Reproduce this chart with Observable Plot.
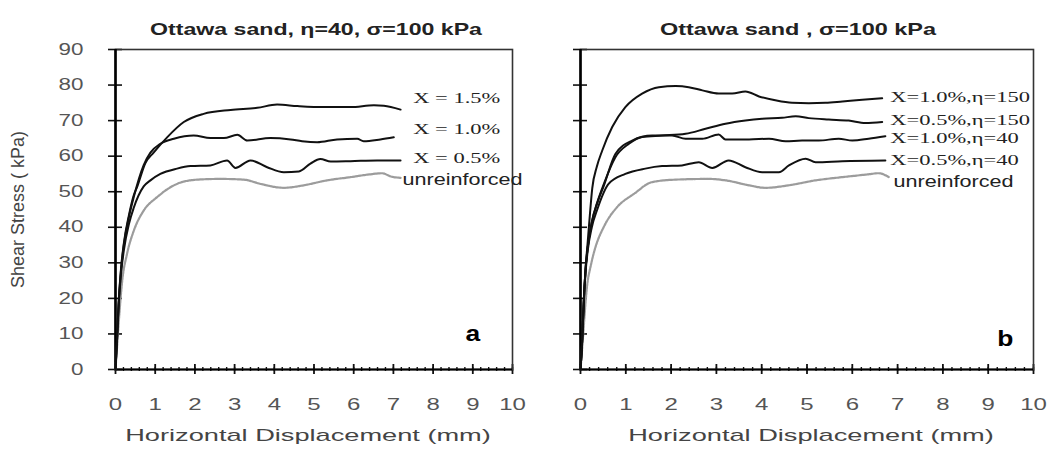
<!DOCTYPE html>
<html>
<head>
<meta charset="utf-8">
<script src="https://cdn.jsdelivr.net/npm/d3@7"></script>
<script src="https://cdn.jsdelivr.net/npm/@observablehq/plot@0.6"></script>
<style>
  body { margin: 0; background: #fff; }
  #wrap { position: relative; width: 1054px; height: 452px; overflow: hidden; }
  #left, #right { position: absolute; top: 0; }
  #left { left: 0; }
  #right { left: 540px; }
</style>
</head>
<body>
<div id="wrap"><div id="left"></div><div id="right"></div></div>
<script>
// ---------- axis ticks ----------
const xTicks = [0, 1, 2, 3, 4, 5, 6, 7, 8, 9, 10];
const yTicks = [0, 10, 20, 30, 40, 50, 60, 70, 80, 90];
const xMinorTicks = d3.range(0, 10.001, 0.2);

// ---------- texts ----------
const leftTitle = "Ottawa sand, η=40, σ=100 kPa";
const rightTitle = "Ottawa sand , σ=100 kPa";
const yLabel = "Shear Stress ( kPa)";
const xLabel = "Horizontal Displacement (mm)";

// ---------- panel a (η = 40) ----------
const left15X = [0,0.04,0.08,0.14,0.21,0.34,0.46,0.55,0.75,0.96,1.30,1.72,2.22,2.90,3.57,4.07,4.58,5.25,5.92,6.51,6.76,7.18];
const left15Y = [0,9,19,28.5,35.5,43.5,49,51.5,58,61,65.3,69.6,71.9,73.0,73.6,74.5,74.1,73.8,73.8,74.3,74.2,73.1];
const left10X = [0,0.04,0.08,0.14,0.21,0.34,0.46,0.71,0.88,1.13,1.47,1.97,2.39,2.73,3.07,3.32,3.9,4.41,4.7,5.08,5.58,6.09,6.25,6.67,7.01];
const left10Y = [0,9,18.6,28,35,43,48.5,57.5,61,63.5,64.9,65.8,65.1,65.1,66.0,64.4,65.1,64.7,64.2,63.9,64.7,64.9,64.2,64.7,65.3];
const left05X = [0,0.04,0.08,0.14,0.21,0.34,0.46,0.71,0.88,1.13,1.55,1.89,2.39,2.81,3.02,3.4,3.82,4.24,4.62,4.91,5.16,5.42,5.92,6.59,7.18];
const left05Y = [0,8.5,18,27,33.5,41,45.5,51.5,53.2,55,56.5,57.2,57.4,58.8,56.7,58.8,56.9,55.5,55.7,57.9,59.2,58.5,58.6,58.8,58.8];
const leftURX = [0,0.05,0.1,0.17,0.29,0.46,0.71,1.05,1.55,2.06,2.64,3.23,3.65,4.24,4.74,5.33,5.92,6.42,6.72,6.93,7.18];
const leftURY = [0,8,16,25,32.5,39,44.7,48.5,52.2,53.4,53.6,53.4,52.2,51.1,51.8,53.2,54.1,54.9,55.2,54.3,53.9];

const leftLabelText = ["X = 1.5%", "X = 1.0%", "X = 0.5%"];
const leftLabelX = [7.5, 7.5, 7.5];
const leftLabelY = [76.2, 67.5, 59.4];
const leftURLabel = {text: "unreinforced", x: 7.23, y: 53.2};
const leftLetter = {text: "a", x: 9.0, y: 10.1};

// ---------- panel b ----------
const r10e150X = [0,0.04,0.07,0.11,0.16,0.21,0.26,0.36,0.48,0.70,0.99,1.36,1.73,2.1,2.39,2.69,3.05,3.35,3.64,3.94,4.3,4.67,5.04,5.41,5.78,6.22,6.66];
const r10e150Y = [0,9.1,18.5,28,36,44,51,57,61.6,68.2,73.8,77.6,79.4,79.7,79.4,78.5,77.6,77.6,78.2,76.8,75.7,75.0,74.9,75.0,75.4,75.9,76.3];
const r05e150X = [0,0.04,0.07,0.11,0.16,0.25,0.37,0.51,0.77,1.07,1.36,1.80,2.32,2.76,3.2,3.64,4.01,4.45,4.75,5.04,5.48,5.92,6.29,6.66];
const r05e150Y = [0,9,18.5,27.8,34.4,41.5,47,52,59.7,63.5,65.4,65.8,66.3,67.7,69.1,70.0,70.5,70.8,71.2,70.7,70.3,70.0,69.3,69.6];
const r10e40X = [0,0.04,0.07,0.11,0.16,0.25,0.37,0.51,0.77,1.14,1.58,2.02,2.32,2.69,3.05,3.2,3.72,4.16,4.53,4.89,5.26,5.7,6.0,6.36,6.73];
const r10e40Y = [0,9,18.5,27.8,34.4,41.5,46.8,51.5,60.6,64.4,65.8,65.8,64.9,64.9,66.1,64.7,64.7,64.9,64.2,64.4,64.4,64.9,64.4,64.9,65.6];
const r05e40X = [0,0.04,0.07,0.11,0.16,0.25,0.37,0.62,0.99,1.43,1.80,2.24,2.61,2.91,3.27,3.64,4.01,4.38,4.6,4.97,5.19,5.78,6.73];
const r05e40Y = [0,8.5,18,27,33.5,40,45,52.2,55,56.5,57.2,57.4,58.3,56.7,58.8,56.9,55.5,55.5,57.4,59.3,58.3,58.6,58.8];
const rURX = [0,0.05,0.1,0.15,0.22,0.33,0.51,0.81,1.18,1.58,2.1,2.83,3.2,3.72,4.08,4.6,5.19,5.78,6.36,6.58,6.81];
const rURY = [0,8,17,24,28.8,34.4,40,45.7,49.4,52.7,53.4,53.6,53.2,51.8,51.1,51.8,53.2,54.1,54.9,55.2,54.1];

const rightLabelText = ["X=1.0%,η=150", "X=0.5%,η=150", "X=1.0%,η=40", "X=0.5%,η=40"];
const rightLabelX = [6.84, 6.84, 6.84, 6.84];
const rightLabelY = [76.5, 70.0, 65.0, 58.8];
const rightURLabel = {text: "unreinforced", x: 6.91, y: 52.9};
const rightLetter = {text: "b", x: 9.38, y: 8.7};

// ---------- helpers ----------
function rows(xs, ys, name) { return xs.map((x, i) => ({x, y: ys[i], name})); }
function labelRows(texts, xs, ys) { return texts.map((t, i) => ({text: t, x: xs[i], y: ys[i]})); }

function addScale(t, s) {
  t.setAttribute("transform", (t.getAttribute("transform") || "") + ` scale(${s},1)`);
}
function stretchGroup(svg, label, s) {
  svg.querySelectorAll(`g[aria-label="${label}"] text`).forEach(t => addScale(t, s));
}
function stretchByText(svg, factorOf) {
  svg.querySelectorAll(`g[aria-label="text"] text`).forEach(t => {
    const s = factorOf(t.textContent);
    if (s) addScale(t, s);
  });
}

function panel(opts) {
  const marks = [
    Plot.ruleY(yTicks, {y: d => d, x1: () => 0, x2: () => 0, insetLeft: -7, insetRight: -7, stroke: "#111", strokeWidth: 1.6}),
    Plot.ruleX(xMinorTicks, {x: d => d, y1: () => 0, y2: () => 0, insetTop: -2, insetBottom: -2, stroke: "#111", strokeWidth: 1.4}),
    Plot.ruleX(xTicks, {x: d => d, y1: () => 0, y2: () => 0, insetTop: -5, insetBottom: -5, stroke: "#111", strokeWidth: 1.8}),
    Plot.frame({stroke: "#333", strokeWidth: 1.6}),
    Plot.ruleX([0], {stroke: "#000", strokeWidth: 2.6}),
    Plot.ruleY([0], {stroke: "#000", strokeWidth: 2.2}),
    Plot.line(opts.gray, {x: "x", y: "y", stroke: "#9c9c9c", strokeWidth: 2.2, strokeDasharray: "2,1", curve: "monotone-x"}),
    Plot.line(opts.black, {x: "x", y: "y", z: "name", stroke: "#111", strokeWidth: 2, curve: "monotone-x"}),
    Plot.axisX({ticks: xTicks, tickSize: 0, tickPadding: 29, fontSize: 16, color: "#555", label: null}),
    Plot.text(opts.labels, {x: "x", y: "y", text: "text", textAnchor: "start", fontFamily: "'Liberation Serif', 'Times New Roman', serif", fontSize: 15, fill: "#222"}),
    Plot.text([opts.ur], {x: "x", y: "y", text: "text", textAnchor: "start", fontSize: 16, fill: "#222"}),
    Plot.text([opts.letter], {x: "x", y: "y", text: "text", fontSize: 22, fontWeight: "bold", fill: "#000"}),
    Plot.text([opts.title], {text: d => d, frameAnchor: "top", dy: -27, dx: opts.titleDx, fontSize: 17, fontWeight: "bold", fill: "#222"}),
    Plot.text([xLabel], {text: d => d, frameAnchor: "bottom", dy: 71, dx: opts.xLabelDx, fontSize: 17, fill: "#444"})
  ];
  if (opts.yAxis) {
    marks.push(Plot.axisY({ticks: yTicks, tickSize: 0, tickPadding: 32, fontSize: 16, color: "#555", label: null}));
    marks.push(Plot.text([yLabel], {text: d => d, frameAnchor: "left", textAnchor: "middle", dx: -97, rotate: -90, fontSize: 18, fill: "#444"}));
  }
  const svg = Plot.plot({
    width: opts.width,
    height: 452,
    marginLeft: opts.marginLeft,
    marginRight: opts.marginRight,
    marginTop: 49,
    marginBottom: 83,
    x: {domain: [0, 10]},
    y: {domain: [0, 90], axis: opts.yAxis ? undefined : null},
    style: {fontFamily: "'Liberation Sans', Arial, sans-serif", background: "#fff", overflow: "visible"},
    marks
  });
  stretchGroup(svg, "x-axis tick label", 1.5);
  stretchGroup(svg, "y-axis tick label", 1.4);
  const serif = new Set([...leftLabelText, ...rightLabelText]);
  stretchByText(svg, s => {
    if (serif.has(s)) return 1.5;
    if (s === "unreinforced") return 1.35;
    if (s === "a" || s === "b") return 1.2;
    if (s === leftTitle) return 1.36;
    if (s === rightTitle) return 1.38;
    if (s === xLabel) return 1.6;
    return 0;
  });
  return svg;
}

const leftBlack = [
  ...rows(left15X, left15Y, "X = 1.5%"),
  ...rows(left10X, left10Y, "X = 1.0%"),
  ...rows(left05X, left05Y, "X = 0.5%")
];
const rightBlack = [
  ...rows(r10e150X, r10e150Y, "X=1.0%,η=150"),
  ...rows(r05e150X, r05e150Y, "X=0.5%,η=150"),
  ...rows(r10e40X, r10e40Y, "X=1.0%,η=40"),
  ...rows(r05e40X, r05e40Y, "X=0.5%,η=40")
];

document.getElementById("left").appendChild(panel({
  width: 540, marginLeft: 115, marginRight: 28, yAxis: true,
  black: leftBlack, gray: rows(leftURX, leftURY, "unreinforced"),
  labels: labelRows(leftLabelText, leftLabelX, leftLabelY),
  ur: leftURLabel, letter: leftLetter, title: leftTitle, titleDx: 2, xLabelDx: -6
}));
document.getElementById("right").appendChild(panel({
  width: 514, marginLeft: 40, marginRight: 21, yAxis: false,
  black: rightBlack, gray: rows(rURX, rURY, "unreinforced"),
  labels: labelRows(rightLabelText, rightLabelX, rightLabelY),
  ur: rightURLabel, letter: rightLetter, title: rightTitle, titleDx: -9, xLabelDx: 4
}));
</script>
</body>
</html>
